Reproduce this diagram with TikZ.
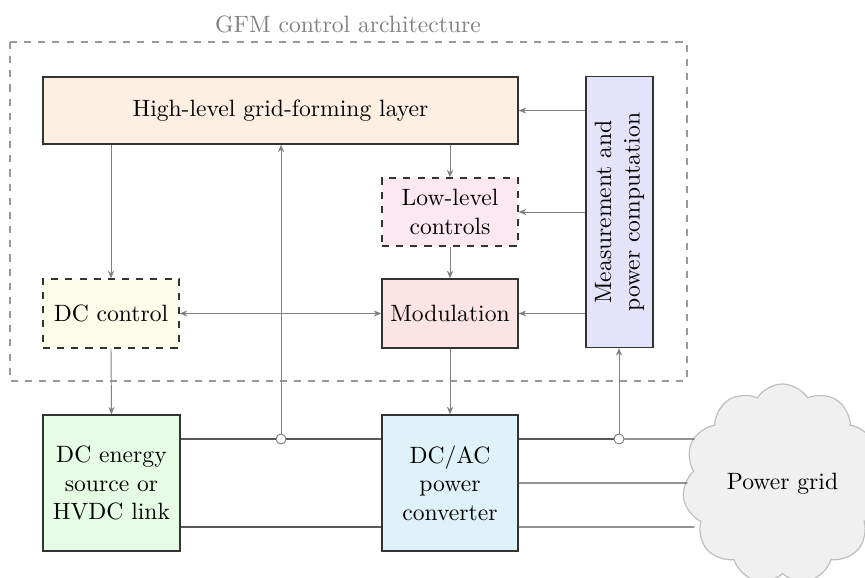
\documentclass[tikz,border=0pt]{standalone}
\usetikzlibrary{arrows.meta,shapes.symbols,calc}

\definecolor{hlfill}{HTML}{FDF0E3}
\definecolor{llfill}{HTML}{FCE8F0}
\definecolor{modfill}{HTML}{FDE5E5}
\definecolor{measfill}{HTML}{E3E3FA}
\definecolor{dcefill}{HTML}{E5FCE5}
\definecolor{convfill}{HTML}{DFF2FA}
\definecolor{dccfill}{HTML}{FDFBEA}
\definecolor{cloudfill}{HTML}{F0F0F0}
\definecolor{cloudline}{HTML}{BEBEBE}

\def\pxu{0.4237pt}

\tikzset{
  block/.style={draw=black!80, line width=0.55pt, inner sep=0pt, align=center,
    minimum width=#1*\pxu},
  block/.default=136,
  tall/.style={minimum height=#1*\pxu},
  optional/.style={dashed},
  sig/.style={draw=gray, line width=0.4pt, -{Stealth[length=3.2pt,width=2.6pt]}},
  sigboth/.style={draw=gray, line width=0.4pt,
    {Stealth[length=3.2pt,width=2.6pt]}-{Stealth[length=3.2pt,width=2.6pt]}},
  power/.style={draw=black!65, line width=0.6pt},
  tap/.style={circle, draw=gray, fill=white, line width=0.4pt, inner sep=0pt,
    minimum size=10*\pxu},
  frame/.style={draw=gray!80, dashed, line width=0.5pt},
}

\begin{document}
\begin{tikzpicture}[x=0.4237pt, y=-0.4237pt]
  \useasboundingbox (0,0) rectangle (865,577);
  \clip (0,0) rectangle (865,577);

  % control architecture frame and its title
  \draw[frame] (10,42) rectangle (687,381);
  \node[text=gray] (title) at (348,24) {GFM control architecture};

  % control blocks
  \node[block=475, tall=67, fill=hlfill] (hl) at (280.5,110.5) {High-level grid-forming layer};
  \node[block=271, tall=67, fill=measfill, rotate=90] (meas) at (619.5,212)
    {Measurement and\\power computation};
  \node[block, tall=68, fill=llfill, optional] (ll) at (450,212) {Low-level\\controls};
  \node[block, tall=69, fill=modfill] (mod) at (450,313.5) {Modulation};
  \node[block, tall=69, fill=dccfill, optional] (dcc) at (111,313.5) {DC control};

  % power stage
  \node[block=137, tall=136, fill=dcefill] (dce) at (111.5,483) {DC energy\\source or\\HVDC link};
  \node[block, tall=136, fill=convfill] (conv) at (450,483) {DC/AC\\power\\converter};
  \node[cloud, cloud puffs=11, cloud puff arc=115, aspect=1, draw=cloudline,
        fill=cloudfill, line width=0.5pt, inner sep=0pt,
        minimum width=200*\pxu, minimum height=200*\pxu] (grid) at (782.5,484) {Power grid};

  % measurement taps
  \node[tap] (c1) at (281,439) {};
  \node[tap] (c2) at (619,439) {};

  % power connections
  \draw[power] ($(dce.east)+(0,-44)$) -- (c1.west);
  \draw[power] (c1.east) -- ($(conv.west)+(0,-44)$);
  \draw[power] ($(dce.east)+(0,44)$) -- ($(conv.west)+(0,44)$);
  \draw[power] ($(conv.east)+(0,-44)$) -- (c2.west);
  \draw[power] (c2.east) -- ($(grid.west)+(10,-45)$);
  \draw[power] (conv.east) -- ($(grid.west)+(3,-1)$);
  \draw[power] ($(conv.east)+(0,44)$) -- ($(grid.west)+(10,43)$);

  % signal flow
  \draw[sig] (dcc.north |- hl.south) -- (dcc.north);
  \draw[sig] (ll.north |- hl.south) -- (ll.north);
  \draw[sig] (ll.south) -- (mod.north);
  \draw[sig] (mod.south) -- (conv.north);
  \draw[sig] (dcc.south) -- (dce.north);
  \draw[sigboth] (dcc.east) -- (mod.west);
  \draw[sig] (meas.north |- hl.east) -- (hl.east);
  \draw[sig] (meas.north |- ll.east) -- (ll.east);
  \draw[sig] (meas.north |- mod.east) -- (mod.east);
  \draw[sig] (c1.north) -- (c1.north |- hl.south);
  \draw[sig] (c2.north) -- (c2.north |- meas.west);
\end{tikzpicture}
\end{document}
